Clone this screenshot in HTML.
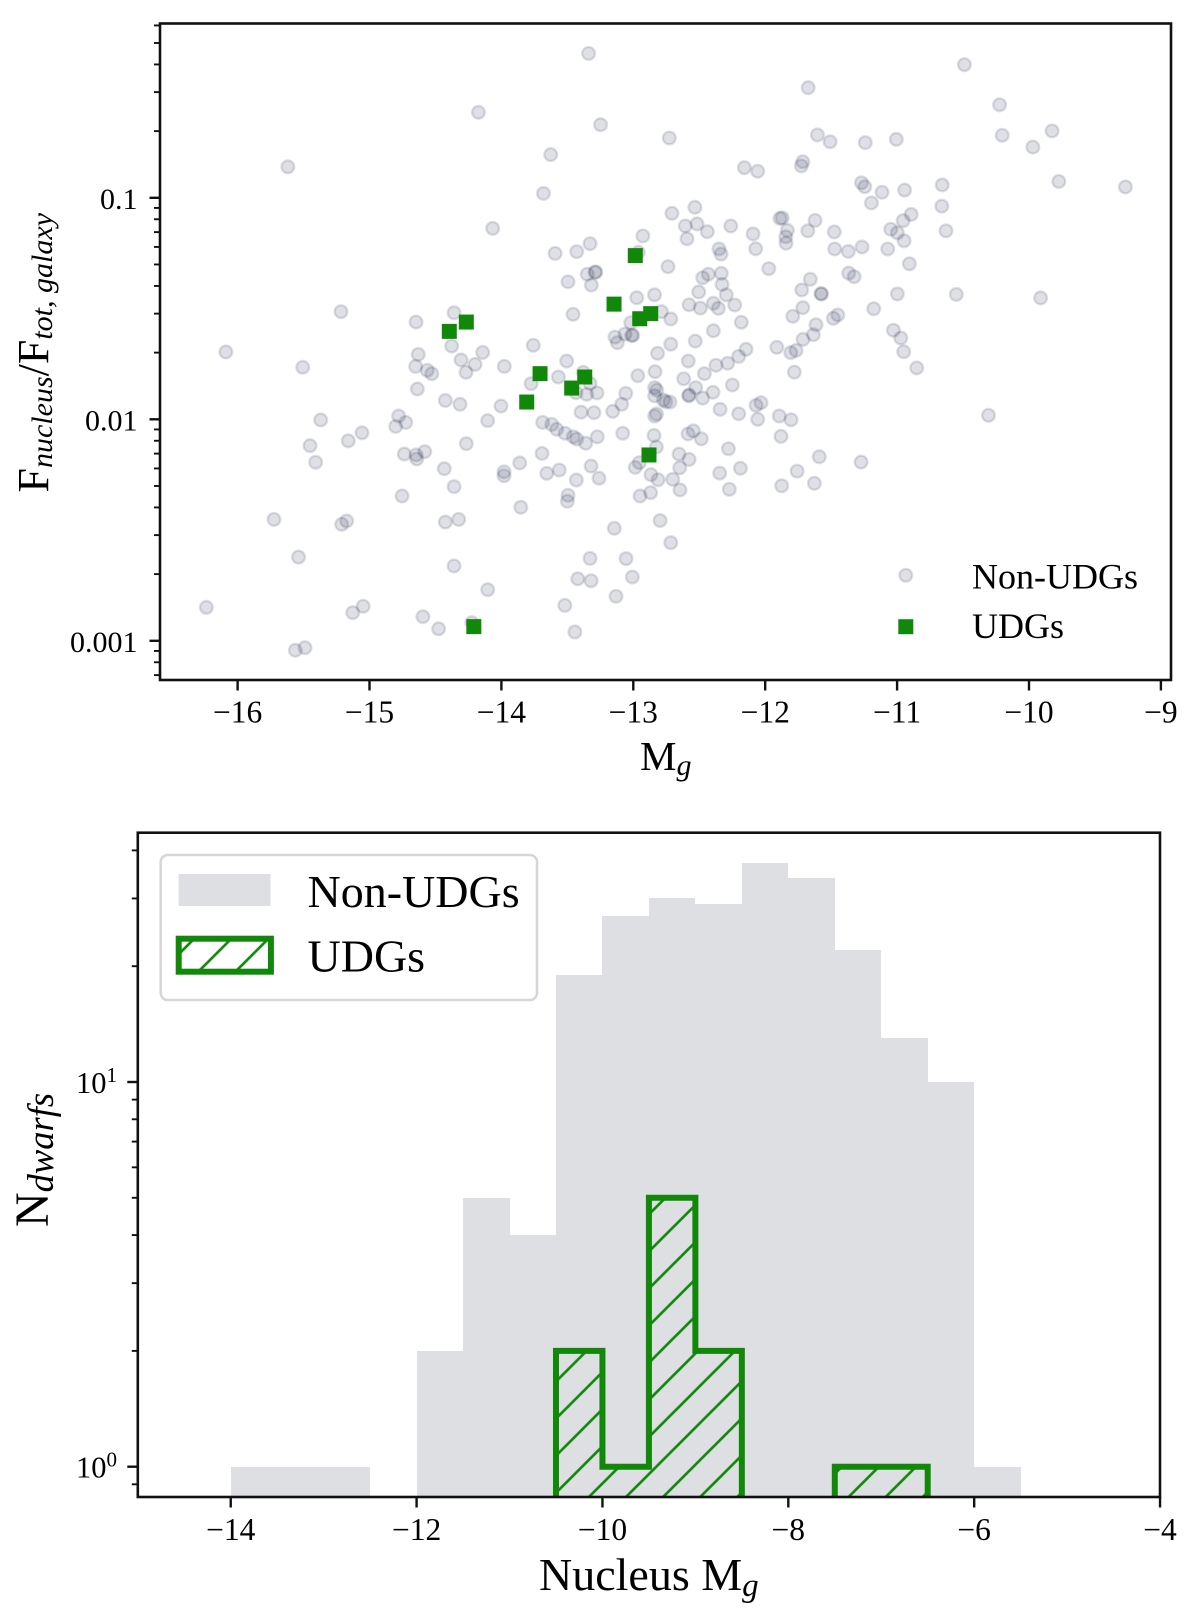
<!DOCTYPE html>
<html lang="en">
<head>
<meta charset="utf-8">
<title>Nucleus flux fraction and magnitude histogram</title>
<style>
html,body{margin:0;padding:0;background:#fff;}
svg{display:block;font-family:"Liberation Serif",serif;}
text{fill:#000;}
</style>
</head>
<body>
<svg id="fig" xmlns="http://www.w3.org/2000/svg" width="1200" height="1612" viewBox="0 0 1200 1612">
  <defs>
    <clipPath id="clip-top"><rect x="160" y="23.5" width="1011" height="656.5"/></clipPath>
    <clipPath id="clip-bottom"><rect x="137.8" y="832.7" width="1022.2" height="664.3"/></clipPath>
    <pattern id="hatch-main" patternUnits="userSpaceOnUse" width="37.1" height="37.1" patternTransform="translate(8.3 0)">
      <path d="M-5 42.1L42.1 -5M-5 5L5 -5M32.1 42.1L42.1 32.1" stroke="#11880a" stroke-width="2.7" fill="none"/>
    </pattern>
    <pattern id="hatch-legend" patternUnits="userSpaceOnUse" width="37.1" height="37.1" patternTransform="translate(19.9 0)">
      <path d="M-5 42.1L42.1 -5M-5 5L5 -5M32.1 42.1L42.1 32.1" stroke="#11880a" stroke-width="2.7" fill="none"/>
    </pattern>
  </defs>

  <g id="top-panel">
    <g id="top-points" clip-path="url(#clip-top)"></g>
    <rect x="160" y="23.5" width="1011" height="656.5" fill="none" stroke="#111" stroke-width="2.6"/>
    <g id="top-ticks"></g>
    <text x="640" y="770" font-size="41">M<tspan font-style="italic" font-size="30" dy="5">g</tspan></text>
    <text transform="translate(47.8 492.5) rotate(-90)" font-size="44">F<tspan font-style="italic" font-size="30" dy="4">nucleus</tspan><tspan dy="-4">/F</tspan><tspan font-style="italic" font-size="30" dy="4">tot, galaxy</tspan></text>
    <g>
      <g>
        <circle cx="905.8" cy="575.3" r="6.4" fill="rgb(40,50,80)" fill-opacity="0.15" stroke="rgb(40,50,80)" stroke-opacity="0.15" stroke-width="2.3"/>
        <text x="972" y="588.5" font-size="36">Non-UDGs</text>
      </g>
      <g>
        <rect x="898.3" y="619.2" width="15" height="15" fill="#11880a"/>
        <text x="972" y="638" font-size="36">UDGs</text>
      </g>
    </g>
  </g>

  <g id="bottom-panel">
    <g id="bottom-bars" clip-path="url(#clip-bottom)"></g>
    <rect x="137.8" y="832.7" width="1022.2" height="664.3" fill="none" stroke="#111" stroke-width="2.6"/>
    <g id="bottom-ticks"></g>
    <text x="539" y="1590" font-size="46">Nucleus M<tspan font-style="italic" font-size="33" dy="6">g</tspan></text>
    <text transform="translate(48 1227) rotate(-90)" font-size="48">N<tspan font-style="italic" font-size="36.5" dy="5">dwarfs</tspan></text>
    <g>
      <rect x="160.7" y="855" width="376.3" height="145" rx="7" ry="7" fill="#fff" stroke="#d6d6d6" stroke-width="2.5"/>
      <g>
        <rect x="178.7" y="874" width="91.8" height="32" fill="#dddfe3"/>
        <text x="307.5" y="907" font-size="46">Non-UDGs</text>
      </g>
      <g>
        <rect x="178.7" y="938.7" width="92.2" height="33" fill="url(#hatch-legend)" stroke="#11880a" stroke-width="6"/>
        <text x="307.5" y="971.7" font-size="46">UDGs</text>
      </g>
    </g>
  </g>
</svg>

<script>
// Scatter panel data: g-band magnitude and log10(F_nucleus / F_tot,galaxy)
const nonUdgMg = [
-13.339,-14.174,-13.248,-15.619,-13.626,-13.681,-14.066,-13.328,-13.429,-13.593,-15.216,-16.089,-15.506,
-10.490,-11.674,-10.223,-9.825,-10.203,-9.971,-11.604,-11.508,-11.241,-11.006,-12.727,-12.158,-12.057,-11.715,-11.726,-9.774,-9.269,-11.270,-11.245,-11.114,-10.943,-10.658,-11.195,-10.661,-12.707,-12.533,-11.888,-11.871,-11.622,-10.893,-10.954,-10.551,-9.912,-10.307,
-12.928,-12.962,-13.349,-13.285,-13.290,-13.495,-13.318,-12.974,-12.839,-13.457,-14.359,-14.647,-13.019,-14.377,-14.630,-14.142,-13.758,-13.139,-13.063,-13.012,-13.004,-13.121,-12.816,-14.306,-14.650,-14.200,-13.978,-14.562,-14.528,-14.268,-13.505,-12.966,-13.568,-13.775,-13.379,-13.328,-14.637,-13.434,-13.353,-13.275,-13.057,-14.425,-14.314,-14.003,-13.088,-13.156,-13.396,-13.298,-12.838,-12.824,
-15.057,-14.779,-14.725,-14.801,-14.104,-13.687,-13.618,-13.581,-13.518,-13.455,-13.429,-13.361,-13.273,-13.080,-12.843,-12.825,-14.266,-14.736,-14.647,-14.642,-14.581,-13.692,-13.861,-14.433,-13.980,-13.980,-13.656,-13.561,-13.320,-13.432,-13.260,-12.954,-12.985,-12.866,-12.812,-14.359,-14.753,-13.495,-13.500,-13.853,-12.949,-12.869,-14.324,-14.425,-12.797,-13.144,-14.359,-13.328,-13.055,-13.421,-13.320,-13.007,-14.104,-13.131,
-15.370,-15.451,-15.408,-15.161,-15.724,-15.538,-15.211,-15.173,-16.237,-15.127,-15.048,-15.562,-15.489,-14.595,-14.476,-14.224,-13.519,-13.443,
-12.606,-12.517,-12.439,-12.261,-12.593,-12.092,-11.832,-11.844,-11.842,-11.677,-11.476,-11.048,-10.998,-10.947,-10.629,-12.350,-12.335,-12.072,-11.473,-11.370,-11.266,-11.071,-10.907,-12.737,-11.973,-12.431,-12.474,-12.333,-11.367,-11.326,-12.327,-11.658,-11.723,-11.577,-11.573,-12.504,-12.295,-10.998,-12.577,-12.492,-12.393,-12.355,-12.231,-11.715,-11.791,-12.716,-11.177,-11.450,-11.483,-12.181,-12.393,-11.615,-11.635,-11.713,-11.028,-10.972,-10.950,-12.530,-12.716,-11.912,-12.145,-12.201,-11.806,-11.766,-12.583,-12.284,-12.373,-11.779,-10.851,-12.835,-12.461,-12.618,-12.838,-12.822,-12.838,-12.527,-12.249,-12.396,-12.580,-12.577,-12.474,-12.772,-12.752,-12.722,-12.342,-12.201,-12.032,-12.069,-12.057,-11.893,-11.804,
-12.585,-12.545,-12.484,-11.880,-12.279,-12.653,-12.577,-12.648,-11.590,-11.273,-12.188,-12.345,-11.758,-12.701,-12.646,-12.272,-11.875,-11.627,-12.716,-12.787
];
const nonUdgLogRatio = [
-0.348,-0.614,-0.670,-0.860,-0.805,-0.980,-1.138,-1.207,-1.243,-1.251,-1.514,-1.696,-1.765,
-0.399,-0.503,-0.580,-0.698,-0.718,-0.771,-0.716,-0.747,-0.751,-0.736,-0.730,-0.864,-0.880,-0.837,-0.856,-0.926,-0.951,-0.932,-0.950,-0.975,-0.965,-0.942,-1.023,-1.038,-1.070,-1.043,-1.093,-1.091,-1.102,-1.075,-1.103,-1.436,-1.452,-1.982,
-1.172,-1.246,-1.345,-1.335,-1.336,-1.379,-1.394,-1.451,-1.438,-1.526,-1.519,-1.561,-1.564,-1.669,-1.707,-1.698,-1.666,-1.629,-1.615,-1.621,-1.621,-1.654,-1.702,-1.732,-1.761,-1.752,-1.761,-1.779,-1.794,-1.788,-1.737,-1.803,-1.809,-1.839,-1.788,-1.838,-1.863,-1.880,-1.887,-1.881,-1.883,-1.915,-1.932,-1.940,-1.932,-1.964,-1.968,-1.970,-1.985,-1.976,
-2.061,-1.985,-2.014,-2.032,-2.006,-2.014,-2.023,-2.045,-2.063,-2.079,-2.089,-2.108,-2.079,-2.063,-2.073,-2.125,-2.110,-2.157,-2.161,-2.179,-2.146,-2.154,-2.197,-2.223,-2.237,-2.255,-2.244,-2.229,-2.211,-2.274,-2.266,-2.196,-2.217,-2.250,-2.273,-2.304,-2.346,-2.343,-2.370,-2.397,-2.346,-2.331,-2.452,-2.464,-2.457,-2.492,-2.662,-2.628,-2.629,-2.720,-2.729,-2.712,-2.769,-2.799,
-2.003,-2.119,-2.194,-2.097,-2.452,-2.622,-2.474,-2.459,-2.849,-2.873,-2.844,-3.043,-3.031,-2.891,-2.946,-2.918,-2.840,-2.960,
-1.127,-1.118,-1.153,-1.127,-1.185,-1.163,-1.147,-1.176,-1.205,-1.149,-1.154,-1.142,-1.158,-1.194,-1.149,-1.231,-1.254,-1.230,-1.231,-1.242,-1.222,-1.231,-1.298,-1.311,-1.320,-1.345,-1.361,-1.341,-1.340,-1.356,-1.391,-1.368,-1.416,-1.433,-1.434,-1.425,-1.438,-1.434,-1.483,-1.498,-1.476,-1.499,-1.484,-1.496,-1.535,-1.547,-1.501,-1.529,-1.544,-1.562,-1.600,-1.573,-1.618,-1.639,-1.598,-1.633,-1.695,-1.647,-1.661,-1.675,-1.684,-1.716,-1.699,-1.689,-1.737,-1.747,-1.756,-1.787,-1.768,-1.785,-1.794,-1.817,-1.857,-1.868,-1.894,-1.857,-1.845,-1.878,-1.894,-1.890,-1.904,-1.913,-1.921,-1.922,-1.955,-1.975,-1.925,-1.937,-2.000,-1.985,-2.002,
-2.066,-2.052,-2.088,-2.077,-2.133,-2.157,-2.181,-2.219,-2.169,-2.193,-2.221,-2.243,-2.234,-2.271,-2.319,-2.316,-2.300,-2.289,-2.557,-1.514
];
const udgMg = [-12.985,-13.146,-12.868,-12.951,-14.266,-14.395,-13.707,-13.368,-13.467,-13.808,-12.881,-14.209];
const udgLogRatio = [-1.261,-1.480,-1.523,-1.546,-1.561,-1.603,-1.794,-1.809,-1.859,-1.922,-2.161,-2.936];
const scatterXTicks = [-16,-15,-14,-13,-12,-11,-10,-9];
const scatterYTicks = [0.1,0.01,0.001];
const scatterYTickLabels = ["0.1","0.01","0.001"];

// Histogram data: bin edges start, bin width and counts per bin
const binStart = -14;
const binWidth = 0.5;
const nonUdgCounts = [1,1,1,0,2,5,4,19,27,30,29,37,34,22,13,10,1];
const udgCounts = [0,0,0,0,0,0,0,2,1,5,2,0,0,1,1,0,0];
const histXTicks = [-14,-12,-10,-8,-6,-4];
const histYTicks = [1,10];
const histYTickExponents = ["0","1"];

const NS = 'http://www.w3.org/2000/svg';
function make(tag, parent, attrs) {
  const el = document.createElementNS(NS, tag);
  for (const k in attrs) el.setAttribute(k, attrs[k]);
  parent.appendChild(el);
  return el;
}
const minus = v => (v < 0 ? '\u2212' : '') + Math.abs(v);

// Scatter axes
const topLeft = 160, topRight = 1171, topTop = 23.5, topBottom = 680;
const topX = v => 237.6 + (v + 16) * 131.9;
const topYLog = l => 419.3 - (l + 2) * 221.5;
const topY = v => topYLog(Math.log10(v));

// Histogram axes
const botLeft = 137.8, botRight = 1160, botTop = 832.7, botBottom = 1497;
const botX = v => botLeft + (v + 15) * 92.93;
const botY = v => v > 0 ? 1466.7 - Math.log10(v) * 384.7 : botBottom + 12;

// Scatter points
const topPoints = document.getElementById('top-points');
nonUdgMg.forEach((mg, i) => {
  const el = make('circle', topPoints, {
    cx: topX(mg).toFixed(2), cy: topYLog(nonUdgLogRatio[i]).toFixed(2), r: 6.4,
    fill: 'rgb(40,50,80)', 'fill-opacity': 0.15,
    stroke: 'rgb(40,50,80)', 'stroke-opacity': 0.15, 'stroke-width': 2.3
  });
  
  
});
udgMg.forEach((mg, i) => {
  const el = make('rect', topPoints, {
    x: (topX(mg) - 7.5).toFixed(2), y: (topYLog(udgLogRatio[i]) - 7.5).toFixed(2),
    width: 15, height: 15, fill: '#11880a'
  });
  
  
});

// Scatter ticks
const topTicks = document.getElementById('top-ticks');
scatterXTicks.forEach(v => {
  const tick = make('line', topTicks, {x1: topX(v), x2: topX(v), y1: topBottom, y2: topBottom + 10.5, stroke: '#111', 'stroke-width': 2.4});
  
  
  const label = make('text', topTicks, {x: topX(v), y: 722.7, 'text-anchor': 'middle', 'font-size': 31.5});
  label.textContent = minus(v);
  
  
});
scatterYTicks.forEach((v, i) => {
  const tick = make('line', topTicks, {x1: topLeft - 10.5, x2: topLeft, y1: topY(v), y2: topY(v), stroke: '#111', 'stroke-width': 2.4});
  
  
  const label = make('text', topTicks, {x: 137.5, y: topY(v) + 11, 'text-anchor': 'end', 'font-size': 30});
  label.textContent = scatterYTickLabels[i];
  
  
});
[0.0001, 0.001, 0.01, 0.1].forEach(decade => {
  for (let m = 2; m <= 9; m++) {
    const v = decade * m;
    const py = topY(v);
    if (py < topTop - 1 || py > topBottom) continue;
    const tick = make('line', topTicks, {x1: topLeft - 6, x2: topLeft, y1: py, y2: py, stroke: '#111', 'stroke-width': 1.9});
    
    
  }
});

// Histogram bars
const bottomBars = document.getElementById('bottom-bars');
nonUdgCounts.forEach((c, i) => {
  if (c <= 0) return;
  const x0 = Math.round(botX(binStart + i * binWidth));
  const x1 = Math.round(botX(binStart + (i + 1) * binWidth));
  const yy = Math.round(botY(c));
  const el = make('rect', bottomBars, {x: x0, y: yy, width: x1 - x0, height: botBottom - yy, fill: '#dddfe3', 'shape-rendering': 'crispEdges'});
  
  
});
let udgPath = '';
udgCounts.forEach((c, i) => {
  const x0 = botX(binStart + i * binWidth).toFixed(2);
  const x1 = botX(binStart + (i + 1) * binWidth).toFixed(2);
  const yy = botY(c).toFixed(2);
  udgPath += (i === 0 ? 'M' : 'L') + x0 + ' ' + yy + 'L' + x1 + ' ' + yy;
});
const udgStep = make('path', bottomBars, {d: udgPath, fill: 'url(#hatch-main)', stroke: '#11880a', 'stroke-width': 6, 'stroke-linejoin': 'miter'});



// Histogram ticks
const bottomTicks = document.getElementById('bottom-ticks');
histXTicks.forEach(v => {
  const tick = make('line', bottomTicks, {x1: botX(v), x2: botX(v), y1: botBottom, y2: botBottom + 10.5, stroke: '#111', 'stroke-width': 2.4});
  
  
  const label = make('text', bottomTicks, {x: botX(v), y: 1540, 'text-anchor': 'middle', 'font-size': 31.5});
  label.textContent = minus(v);
  
  
});
histYTicks.forEach((v, i) => {
  const tick = make('line', bottomTicks, {x1: botLeft - 10.5, x2: botLeft, y1: botY(v), y2: botY(v), stroke: '#111', 'stroke-width': 2.4});
  
  
  const label = make('text', bottomTicks, {x: 117, y: botY(v) + 11, 'text-anchor': 'end', 'font-size': 30.5});
  
  
  const base = make('tspan', label, {});
  base.textContent = '10';
  const exp = make('tspan', label, {'font-size': 21, dy: -11});
  exp.textContent = histYTickExponents[i];
});
[0.1, 1, 10].forEach(decade => {
  for (let m = 2; m <= 9; m++) {
    const v = decade * m;
    const py = botY(v);
    if (py < botTop || py > botBottom) continue;
    const tick = make('line', bottomTicks, {x1: botLeft - 6, x2: botLeft, y1: py, y2: py, stroke: '#111', 'stroke-width': 1.9});
    
    
  }
});
</script>
</body>
</html>
